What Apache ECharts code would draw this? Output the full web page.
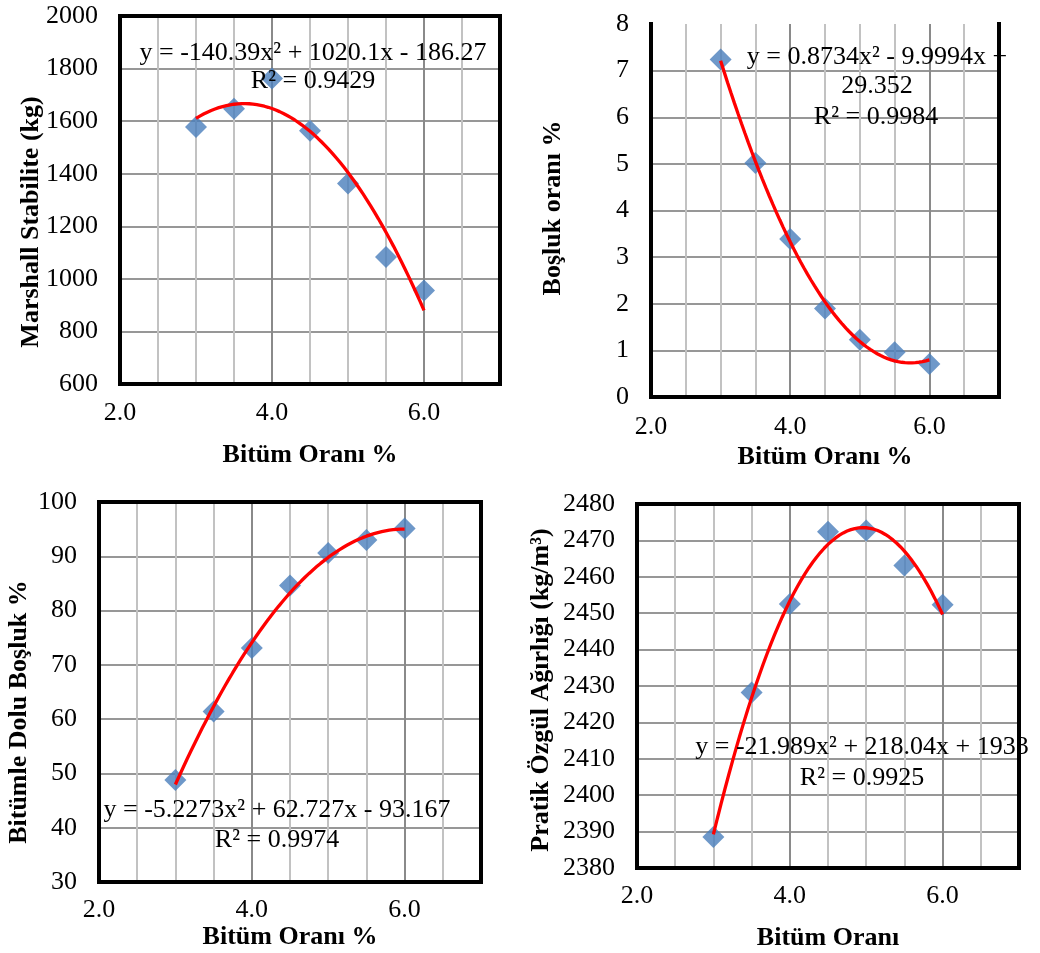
<!DOCTYPE html>
<html>
<head>
<meta charset="utf-8">
<title>Bitüm Oranı</title>
<script src="https://cdn.jsdelivr.net/npm/echarts@6/dist/echarts.min.js"></script>
<style>
  html, body { margin: 0; padding: 0; background: #fff; }
  #chart { width: 1040px; height: 953px; }
</style>
</head>
<body>
<div id="chart"></div>
<script>
// Bitumen content (%) of the test specimens
const bitumOrani = [3.0, 3.5, 4.0, 4.5, 5.0, 5.5, 6.0];

// Measured values per bitumen content
const marshallStabilite = [1578, 1647, 1762, 1563, 1363, 1083, 956];
const boslukOrani = [7.24, 5.02, 3.39, 1.90, 1.23, 0.96, 0.71];
const bitumleDoluBosluk = [48.8, 61.4, 73.1, 84.6, 90.6, 93.0, 95.1];
const pratikOzgulAgirlik = [2388.5, 2428.2, 2452.5, 2472.4, 2472.7, 2463.1, 2452.3];

// Second-order trendline coefficients [a, b, c] for y = a·x² + b·x + c
const stabiliteFit = [-140.39, 1020.1, -186.27];
const boslukFit = [0.8734, -9.9994, 29.352];
const vfaFit = [-5.2273, 62.727, -93.167];
const yogunlukFit = [-21.989, 218.04, 1933];

// Trendline equation labels
const stabiliteEq = ['y = -140.39x² + 1020.1x - 186.27', 'R² = 0.9429'];
const boslukEq = ['y = 0.8734x² - 9.9994x +', '29.352', 'R² = 0.9984'];
const vfaEq = ['y = -5.2273x² + 62.727x - 93.167', 'R² = 0.9974'];
const yogunlukEq = ['y = -21.989x² + 218.04x + 1933', 'R² = 0.9925'];

// Axis titles
const xTitles = ['Bitüm Oranı %', 'Bitüm Oranı %', 'Bitüm Oranı %', 'Bitüm Oranı'];
const yTitles = ['Marshall Stabilite (kg)', 'Boşluk oranı %', 'Bitümle Dolu Boşluk %', 'Pratik Özgül Ağırlığı (kg/m³)'];

const FONT = '"Liberation Serif", "Times New Roman", serif';
const FRAME = { show: true, lineStyle: { color: '#000', width: 4, cap: 'square' } };

function pairs(xs, ys) {
  return xs.map((x, i) => [x, ys[i]]);
}

// Sample the fitted polynomial across the measured bitumen range
function trendPoints(coef, xs) {
  const x0 = xs[0], x1 = xs[xs.length - 1];
  const steps = 60;
  const pts = [];
  for (let i = 0; i <= steps; i++) {
    const x = x0 + (x1 - x0) * i / steps;
    pts.push([x, coef[0] * x * x + coef[1] * x + coef[2]]);
  }
  return pts;
}

const panels = [
  { grid: { left: 120, top: 16, width: 380, height: 368 }, y: [600, 2000, 200], xMargin: 16,
    values: marshallStabilite, fit: stabiliteFit, eq: stabiliteEq,
    eqPos: [[313, 53], [313, 81]], xTitlePos: [310, 455], yTitlePos: [31, 222] },
  { grid: { left: 651, top: 24, width: 348, height: 373 }, y: [0, 8, 1], xMargin: 17,
    values: boslukOrani, fit: boslukFit, eq: boslukEq,
    eqPos: [[877, 57], [877, 86], [876, 117]], xTitlePos: [825, 457], yTitlePos: [553, 208] },
  { grid: { left: 99, top: 502, width: 382, height: 380 }, y: [30, 100, 10], xMargin: 15,
    values: bitumleDoluBosluk, fit: vfaFit, eq: vfaEq,
    eqPos: [[277, 810], [277, 840]], xTitlePos: [290, 937], yTitlePos: [19, 712] },
  { grid: { left: 637, top: 504, width: 382, height: 364 }, y: [2380, 2480, 10], xMargin: 15,
    values: pratikOzgulAgirlik, fit: yogunlukFit, eq: yogunlukEq,
    eqPos: [[862, 747], [862, 778]], xTitlePos: [828, 938], yTitlePos: [541, 690] }
];

const grid = [], xAxis = [], yAxis = [], series = [], graphic = [];

panels.forEach((p, i) => {
  grid.push(Object.assign({ show: false }, p.grid));

  // top edge + minor vertical grid every 0.5
  xAxis.push({
    type: 'value', gridIndex: i, position: 'top', min: 2, max: 7, interval: 0.5,
    axisLine: FRAME, axisTick: { show: false }, axisLabel: { show: false },
    splitLine: { show: true, showMinLine: false, showMaxLine: false,
      lineStyle: { color: '#c2c2c2', width: 2 } }
  });
  // bottom edge + major vertical grid every 2.0 with labels
  xAxis.push({
    type: 'value', gridIndex: i, position: 'bottom', min: 2, max: 7, interval: 2,
    axisLine: FRAME, axisTick: { show: false },
    axisLabel: {
      margin: p.xMargin, color: '#000', fontFamily: FONT, fontSize: 26,
      formatter: v => (v % 2 === 0 ? v.toFixed(1) : '')
    },
    splitLine: { show: true, showMinLine: false, showMaxLine: false,
      lineStyle: { color: '#8a8a8a', width: 2 } }
  });
  // left edge with value labels and horizontal grid
  yAxis.push({
    type: 'value', gridIndex: i, position: 'left', min: p.y[0], max: p.y[1], interval: p.y[2],
    axisLine: FRAME, axisTick: { show: false },
    axisLabel: { margin: 22, color: '#000', fontFamily: FONT, fontSize: 26, formatter: v => String(v) },
    splitLine: { show: true, showMinLine: false, showMaxLine: false,
      lineStyle: { color: '#979797', width: 2 } }
  });
  // right edge
  yAxis.push({
    type: 'value', gridIndex: i, position: 'right', min: p.y[0], max: p.y[1], interval: p.y[2],
    axisLine: FRAME, axisTick: { show: false }, axisLabel: { show: false },
    splitLine: { show: false }
  });

  series.push({
    type: 'scatter', xAxisIndex: 2 * i + 1, yAxisIndex: 2 * i,
    symbol: 'diamond', symbolSize: 22,
    itemStyle: { color: '#4a7ebb' },
    data: pairs(bitumOrani, p.values), z: 3
  });
  series.push({
    type: 'line', xAxisIndex: 2 * i + 1, yAxisIndex: 2 * i,
    showSymbol: false, smooth: false,
    lineStyle: { color: '#ff0000', width: 3.3 },
    data: trendPoints(p.fit, bitumOrani), z: 4
  });

  p.eq.forEach((t, k) => {
    graphic.push({
      type: 'text', x: p.eqPos[k][0], y: p.eqPos[k][1], z: 10,
      style: { text: t, font: '26px ' + FONT, fill: '#000', align: 'center', verticalAlign: 'middle' }
    });
  });
  graphic.push({
    type: 'text', x: p.xTitlePos[0], y: p.xTitlePos[1], z: 10,
    style: { text: xTitles[i], font: 'bold 26px ' + FONT, fill: '#000', align: 'center', verticalAlign: 'middle' }
  });
  graphic.push({
    type: 'text', x: p.yTitlePos[0], y: p.yTitlePos[1], rotation: Math.PI / 2, z: 10,
    style: { text: yTitles[i], font: 'bold 26px ' + FONT, fill: '#000', align: 'center', verticalAlign: 'middle' }
  });
});

const chart = echarts.init(document.getElementById('chart'), null, { renderer: 'canvas' });
chart.setOption({
  animation: false,
  backgroundColor: '#fff',
  grid, xAxis, yAxis, series, graphic
});
</script>
</body>
</html>
